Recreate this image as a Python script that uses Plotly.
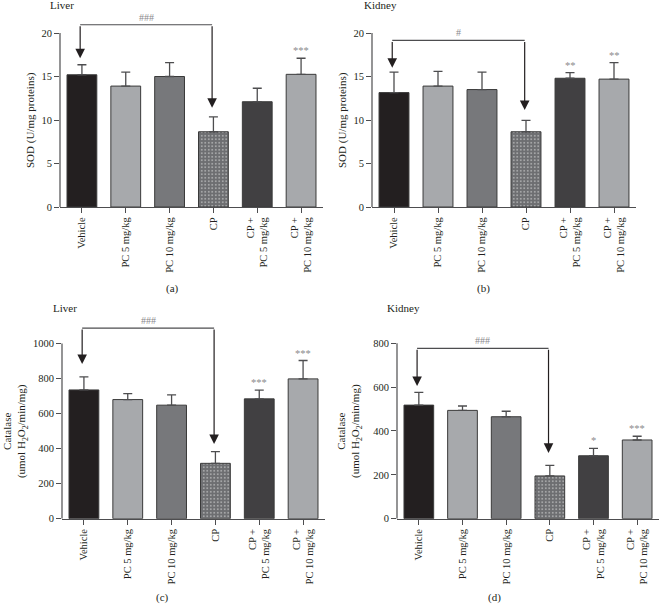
import plotly.graph_objects as go

categories = ["Vehicle", "PC 5 mg/kg", "PC 10 mg/kg", "CP", "CP +<br>PC 5 mg/kg", "CP +<br>PC 10 mg/kg"]

sod_liver = [15.2, 13.9, 15.0, 8.65, 12.1, 15.25]
sod_liver_err = [1.15, 1.6, 1.6, 1.7, 1.55, 1.85]
sod_kidney = [13.15, 13.9, 13.5, 8.65, 14.8, 14.7]
sod_kidney_err = [2.35, 1.7, 2.0, 1.3, 0.65, 1.9]
cat_liver = [735, 680, 648, 316, 684, 798]
cat_liver_err = [75, 34, 59, 67, 50, 105]
cat_kidney = [518, 494, 465, 195, 287, 359]
cat_kidney_err = [58, 20, 25, 48, 34, 17]

stars_sod_liver = ["", "", "", "", "", "***"]
stars_sod_kidney = ["", "", "", "", "**", "**"]
stars_cat_liver = ["", "", "", "", "***", "***"]
stars_cat_kidney = ["", "", "", "", "*", "***"]

FONT = "Liberation Serif"
TXT = "#231f20"
fills = ["#231f20", "#a7a9ac", "#77787b", "#6d6e71", "#414042", "#a7a9ac"]

panels = [
    dict(vals=sod_liver, err=sod_liver_err, stars=stars_sod_liver, x="x", y="y",
         xd=[60/660, 323/660], yd=[1-207/604, 1-15/604], yr=[0, 22.07], ticks=[0, 5, 10, 15, 20], ymax=20,
         bracket=20.95, tips=[17.1, 11.4], hash="###", title="Liver", tx=62, ty=5,
         ytitle="SOD (U/mg proteins)", ytx=31, letter="(a)", lx=172, ly=288),
    dict(vals=sod_kidney, err=sod_kidney_err, stars=stars_sod_kidney, x="x2", y="y2",
         xd=[372/660, 636/660], yd=[1-207/604, 1-15/604], yr=[0, 22.07], ticks=[0, 5, 10, 15, 20], ymax=20,
         bracket=19.15, tips=[16.0, 11.15], hash="#", title="Kidney", tx=380, ty=5,
         ytitle="SOD (U/mg proteins)", ytx=343, letter="(b)", lx=484, ly=288),
    dict(vals=cat_liver, err=cat_liver_err, stars=stars_cat_liver, x="x3", y="y3",
         xd=[62/660, 325/660], yd=[1-518.7/604, 1-315/604], yr=[0, 1162.7], ticks=[0, 200, 400, 600, 800, 1000], ymax=1000,
         bracket=1088, tips=[883, 426], hash="###", title="Liver", tx=65, ty=308,
         ytitle="Catalase<br>(umol H<sub>2</sub>O<sub>2</sub>/min/mg)", ytx=15, letter="(c)", lx=162, ly=597),
    dict(vals=cat_kidney, err=cat_kidney_err, stars=stars_cat_kidney, x="x4", y="y4",
         xd=[397/660, 659/660], yd=[1-518.7/604, 1-315/604], yr=[0, 929], ticks=[0, 200, 400, 600, 800], ymax=800,
         bracket=777, tips=[605, 300], hash="###", title="Kidney", tx=404, ty=308,
         ytitle="Catalase<br>(umol H<sub>2</sub>O<sub>2</sub>/min/mg)", ytx=350, letter="(d)", lx=494, ly=597),
]

fig = go.Figure()
xs = list(range(len(categories)))
layout = dict(width=660, height=604, margin=dict(l=0, r=0, t=0, b=0, autoexpand=False),
              paper_bgcolor="white", plot_bgcolor="white", showlegend=False,
              font=dict(family=FONT, size=11, color=TXT))
shapes = []
annotations = []

for p in panels:
    fig.add_trace(go.Bar(
        x=xs, y=p["vals"], xaxis=p["x"], yaxis=p["y"], width=0.68,
        marker=dict(color=fills, line=dict(color="#3a3a3a", width=1),
                    pattern=dict(shape=["", "", "", ".", "", ""], fgcolor="#bcbdbf",
                                 bgcolor="#6d6e71", size=3.5, solidity=0.2)),
        error_y=dict(type="data", array=p["err"], arrayminus=[0]*6, symmetric=False,
                     color="#4d4d4f", thickness=1.3, width=4.5),
    ))
    xa = "xaxis" + p["x"][1:]
    ya = "yaxis" + p["y"][1:]
    layout[xa] = dict(domain=p["xd"], anchor=p["y"], range=[-0.5, 5.5], automargin=False,
                      tickvals=xs, ticktext=categories, tickangle=-90,
                      showline=True, linecolor="#4d4d4f", linewidth=1.2,
                      ticks="outside", ticklen=5, tickcolor="#4d4d4f", tickwidth=1.2,
                      showgrid=False, zeroline=False, fixedrange=True,
                      tickfont=dict(family=FONT, size=10.5, color=TXT))
    layout[ya] = dict(domain=p["yd"], anchor=p["x"], range=p["yr"], tickvals=p["ticks"], automargin=False,
                      showline=False, ticks="outside", ticklen=5, tickcolor="#4d4d4f", tickwidth=1.2,
                      showgrid=False, zeroline=False, fixedrange=True,
                      tickfont=dict(family=FONT, size=10.5, color=TXT))
    xd = p["x"] + " domain"
    shapes.append(dict(type="line", xref=xd, yref=p["y"], x0=0, x1=0, y0=0, y1=p["ymax"],
                       line=dict(color="#4d4d4f", width=1.2)))
    bx0, bx1 = -0.04, 2.97
    shapes.append(dict(type="line", xref=p["x"], yref=p["y"], x0=bx0, x1=bx1,
                       y0=p["bracket"], y1=p["bracket"], line=dict(color="#4d4d4f", width=1.2)))
    for bx, tip in zip([bx0, bx1], p["tips"]):
        annotations.append(dict(xref=p["x"], yref=p["y"], axref=p["x"], ayref=p["y"],
                                x=bx, y=tip, ax=bx, ay=p["bracket"], text="", showarrow=True,
                                arrowhead=2, arrowsize=1.6, arrowwidth=1.2, arrowcolor="#231f20",
                                standoff=0))
    annotations.append(dict(xref=p["x"], yref=p["y"], x=(bx0 + bx1) / 2, y=p["bracket"],
                            text=p["hash"], showarrow=False, yanchor="bottom", yshift=0,
                            font=dict(family=FONT, size=10, color="#8a8a8c")))
    for i, s in enumerate(p["stars"]):
        if s:
            annotations.append(dict(xref=p["x"], yref=p["y"], x=i, y=p["vals"][i] + p["err"][i],
                                    text=s, showarrow=False, yanchor="bottom", yshift=0,
                                    font=dict(family=FONT, size=10.5, color="#8a8a8c")))
    annotations.append(dict(xref="paper", yref="paper", x=p["tx"]/660, y=1-p["ty"]/604,
                            text=p["title"], showarrow=False, xanchor="center", yanchor="middle",
                            font=dict(family=FONT, size=11, color=TXT)))
    annotations.append(dict(xref="paper", yref=p["y"], x=p["ytx"]/660, y=p["ymax"]/2,
                            text=p["ytitle"], showarrow=False, textangle=-90,
                            xanchor="center", yanchor="middle",
                            font=dict(family=FONT, size=11, color=TXT)))
    annotations.append(dict(xref="paper", yref="paper", x=p["lx"]/660, y=1-p["ly"]/604,
                            text=p["letter"], showarrow=False, xanchor="center", yanchor="middle",
                            font=dict(family=FONT, size=11, color=TXT)))

layout["shapes"] = shapes
layout["annotations"] = annotations
fig.update_layout(**layout)
fig.write_html("out.html", config={"displayModeBar": False},
               post_script="document.body.style.margin='0';document.body.style.overflow='hidden';")
